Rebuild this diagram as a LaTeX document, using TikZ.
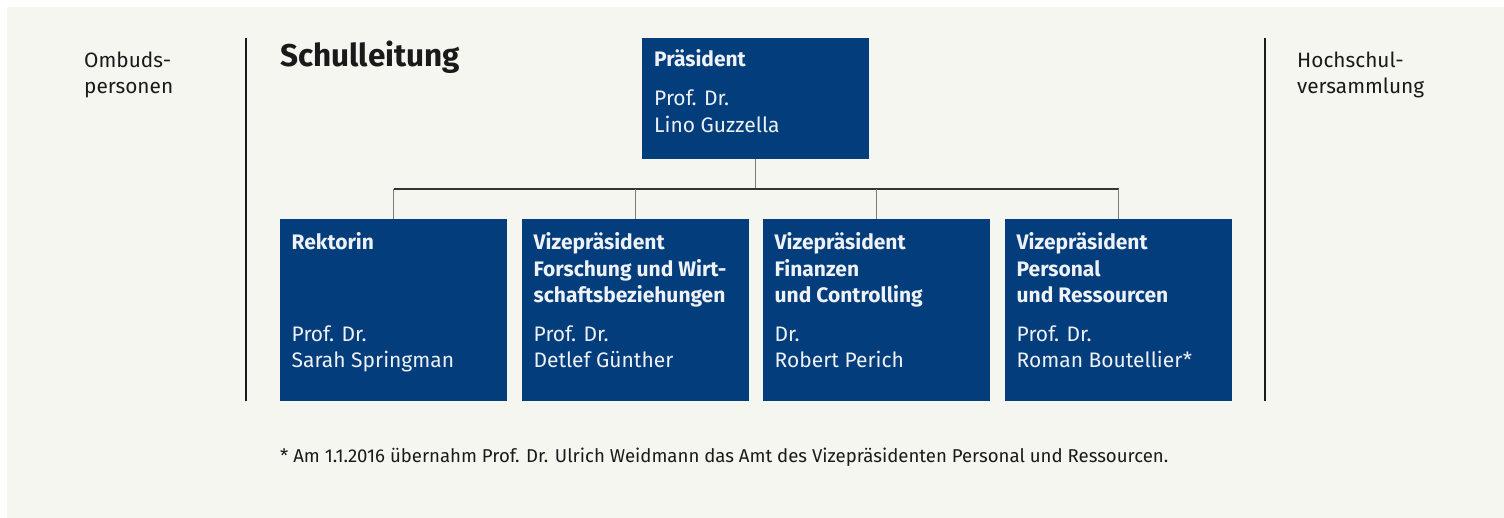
\documentclass[tikz,border=0pt]{standalone}
\usepackage{fontspec}
\setmainfont{Fira Sans}
\definecolor{pagebg}{HTML}{F6F6F1}
\definecolor{ethblue}{HTML}{033D7C}
\definecolor{boxtext}{HTML}{EEF1F5}
\definecolor{ink}{HTML}{1A1A1A}
\definecolor{stub}{HTML}{7A7A7A}
\definecolor{busline}{HTML}{333333}
\begin{document}
\begin{tikzpicture}[x=1pt,y=-1pt,
  box/.style={fill=ethblue, draw=none, anchor=north west, inner sep=0pt,
              minimum width=227pt},
  topbox/.style={box, minimum height=121pt},
  unitbox/.style={box, minimum height=182pt},
  hd/.style={anchor=base west, inner sep=0pt, text=boxtext,
             font=\fontsize{21}{25}\selectfont\bfseries},
  nm/.style={anchor=base west, inner sep=0pt, text=boxtext,
             font=\fontsize{21}{25}\selectfont},
  side/.style={anchor=base west, inner sep=0pt, text=ink,
               font=\fontsize{20.8}{25}\selectfont},
  stubline/.style={draw=stub, line width=1.3pt},
  busstyle/.style={draw=busline, line width=1.2pt},
  divider/.style={draw=ink, line width=1.4pt}]

\useasboundingbox (0,0) rectangle (1504,518);
\fill[pagebg] (7,7) rectangle (1504,518);

% side columns and dividers
\node[side] (omb1) at (84,68) {Ombuds-};
\node[side] (omb2) at (84,94) {personen};
\node[side] (hsv1) at (1297,68) {Hochschul-};
\node[side] (hsv2) at (1297,94) {versammlung};
\draw[divider] (246,38) -- (246,401);
\draw[divider] (1265,38) -- (1265,401);

% heading
\node[anchor=base west, inner sep=0pt, text=ink,
      font=\fontsize{31.5}{36}\selectfont\bfseries] (title) at (280,67) {Schulleitung};

% boxes
\node[topbox]  (pres) at (642,38) {};
\node[unitbox] (rek)  at (280,219) {};
\node[unitbox] (vpf)  at (522,219) {};
\node[unitbox] (vpc)  at (763,219) {};
\node[unitbox] (vpp)  at (1005,219) {};

% connectors
\coordinate (bus) at (0,189);
\draw[stubline] (pres.south) -- (pres.south |- bus);
\draw[busstyle] (rek.north |- bus) -- (vpp.north |- bus);
\draw[stubline] (rek.north |- bus) -- (rek.north);
\draw[stubline] (vpf.north |- bus) -- (vpf.north);
\draw[stubline] (vpc.north |- bus) -- (vpc.north);
\draw[stubline] (vpp.north |- bus) -- (vpp.north);

% president
\node[hd] (pres-h) at (654,67) {Präsident};
\node[nm] (pres-a) at (654,106) {Prof. Dr.};
\node[nm] (pres-b) at (654,132.3) {Lino Guzzella};

% Rektorin
\node[hd] (rek-h) at (291.5,250) {Rektorin};
\node[nm] (rek-a) at (291.5,342) {Prof. Dr.};
\node[nm] (rek-b) at (291.5,367.5) {Sarah Springman};

% VP Forschung
\node[hd] (vpf-h1) at (533.5,250) {Vizepräsident};
\node[hd] (vpf-h2) at (533.5,276.5) {Forschung und Wirt-};
\node[hd] (vpf-h3) at (533.5,303) {schaftsbeziehungen};
\node[nm] (vpf-a) at (533.5,342) {Prof. Dr.};
\node[nm] (vpf-b) at (533.5,367.5) {Detlef Günther};

% VP Finanzen
\node[hd] (vpc-h1) at (774.5,250) {Vizepräsident};
\node[hd] (vpc-h2) at (774.5,276.5) {Finanzen};
\node[hd] (vpc-h3) at (774.5,303) {und Controlling};
\node[nm] (vpc-a) at (774.5,342) {Dr.};
\node[nm] (vpc-b) at (774.5,367.5) {Robert Perich};

% VP Personal
\node[hd] (vpp-h1) at (1016.5,250) {Vizepräsident};
\node[hd] (vpp-h2) at (1016.5,276.5) {Personal};
\node[hd] (vpp-h3) at (1016.5,303) {und Ressourcen};
\node[nm] (vpp-a) at (1016.5,342) {Prof. Dr.};
\node[nm] (vpp-b) at (1016.5,367.5) {Roman Boutellier*};

% footnote
\node[anchor=base west, inner sep=0pt, text=ink,
      font=\fontsize{18.6}{22}\selectfont] (note) at (280,462)
  {* Am 1.1.2016 übernahm Prof. Dr. Ulrich Weidmann das Amt des Vizepräsidenten Personal und Ressourcen.};
\end{tikzpicture}
\end{document}
